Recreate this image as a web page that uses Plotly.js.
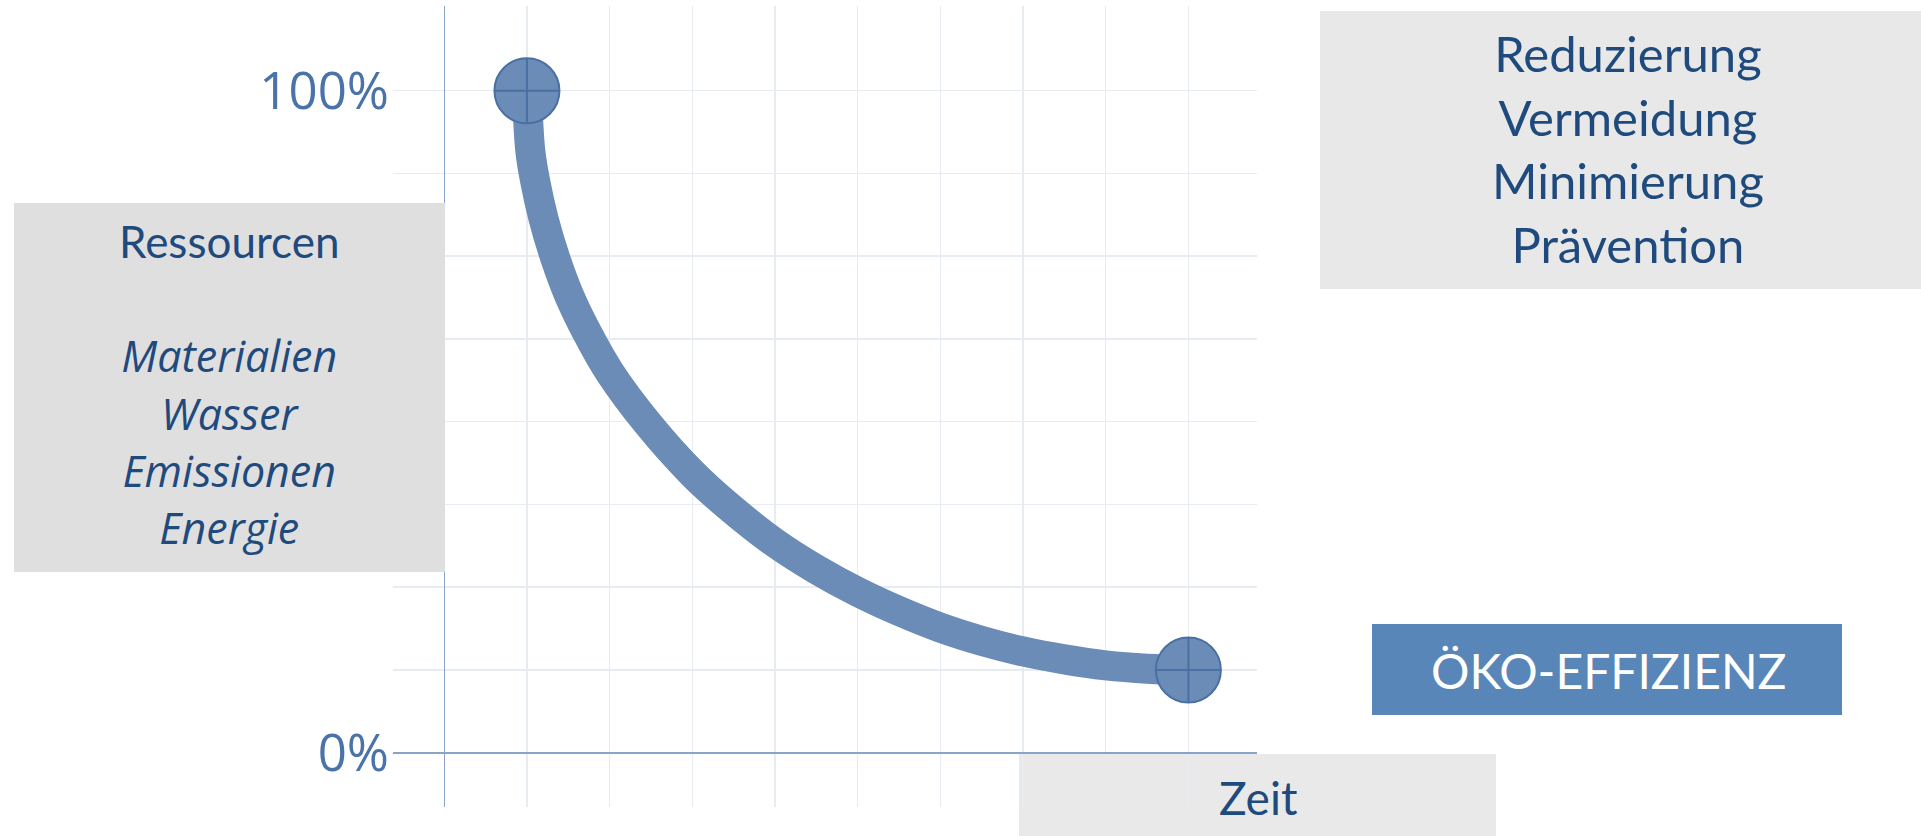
<!DOCTYPE html>
<html>
<head>
<meta charset="utf-8">
<script src="https://cdn.plot.ly/plotly-3.0.1.min.js"></script>
<style>
  html, body { margin: 0; padding: 0; background: #ffffff; }
  #chart { width: 1921px; height: 836px; }
</style>
</head>
<body>
<div id="chart"></div>
<script>
// ---- data ----
const timeX = [1, 1.04, 1.10, 1.20, 1.34, 1.51, 1.73, 2.00, 2.45, 3.00, 3.43, 4.00, 4.50, 5.00, 5.50, 6.00, 6.50, 7.00, 7.50, 8.00, 8.50, 9];
const resourcePct = [100, 91.0, 86.3, 80.7, 74.8, 69.1, 63.4, 57.5, 49.9, 42.2, 37.3, 31.7, 27.7, 24.3, 21.4, 18.9, 16.9, 15.3, 14.1, 13.2, 12.7, 12.5];
const yTickVals = [0, 12.5, 25, 37.5, 50, 62.5, 75, 87.5, 100];
const yTickText = ['0%', '', '', '', '', '', '', '', '100%'];
const leftTitle = 'Ressourcen';
const leftItems = ['Materialien', 'Wasser', 'Emissionen', 'Energie'];
const rightLabels = ['Reduzierung', 'Vermeidung', 'Minimierung', 'Prävention'];
const badgeLabel = 'ÖKO-EFFIZIENZ';
const xLabel = 'Zeit';

// ---- layout geometry (pixels) ----
const L = 393, R = 1257, T = 6, B = 807;
const W = R - L, H = B - T;
function px(p) { return (p - L) / W; }
function py(p) { return (B - p) / H; }

const lineColor = '#6a8cb6';
const textBlue = '#1f4a7d';

const leftText = leftTitle + '<br><br>' +
  leftItems.map(s => '<i><span style="font-family:Open Sans;font-size:43px">' + s + '</span></i>').join('<br>');

const traces = [
  {
    x: timeX, y: resourcePct,
    mode: 'lines', type: 'scatter',
    line: { color: lineColor, width: 30, shape: 'spline', smoothing: 1 },
    hoverinfo: 'skip'
  },
  {
    x: [timeX[0], timeX[timeX.length - 1]],
    y: [resourcePct[0], resourcePct[resourcePct.length - 1]],
    mode: 'markers', type: 'scatter',
    marker: { symbol: 'circle-cross', size: 65, color: lineColor,
              line: { color: '#4a70a3', width: 2 } },
    hoverinfo: 'skip'
  }
];

const layout = {
  width: 1921, height: 836,
  margin: { l: L, r: 1921 - R, t: T, b: 836 - B, pad: 0 },
  paper_bgcolor: '#ffffff',
  plot_bgcolor: 'rgba(0,0,0,0)',
  showlegend: false,
  hovermode: false,
  xaxis: {
    range: [-0.62, 9.83], tick0: 0, dtick: 1,
    showticklabels: false, ticks: '',
    showgrid: true, gridcolor: '#e7ebf2', gridwidth: 1.5,
    zeroline: true, zerolinecolor: '#8aa5cc', zerolinewidth: 1.5,
    showline: false, fixedrange: true
  },
  yaxis: {
    range: [-8.2, 112.8],
    tickmode: 'array', tickvals: yTickVals, ticktext: yTickText,
    ticks: '', ticklabelstandoff: 3,
    tickfont: { family: 'Open Sans, sans-serif', size: 51, color: '#4a73a9' },
    showgrid: true, gridcolor: '#e7ebf2', gridwidth: 1.5,
    zeroline: true, zerolinecolor: '#8aa3c7', zerolinewidth: 2,
    showline: false, fixedrange: true, automargin: false
  },
  shapes: [
    { type: 'rect', xref: 'paper', yref: 'paper', layer: 'above',
      x0: px(14), x1: px(445), y0: py(572), y1: py(203),
      fillcolor: '#dfdfdf', line: { width: 0 } },
    { type: 'rect', xref: 'paper', yref: 'paper', layer: 'above',
      x0: px(1320), x1: px(1930), y0: py(289), y1: py(11),
      fillcolor: '#e8e8e8', line: { width: 0 } },
    { type: 'rect', xref: 'paper', yref: 'paper', layer: 'above',
      x0: px(1372), x1: px(1842), y0: py(715), y1: py(624),
      fillcolor: '#5886b9', line: { width: 0 } },
    { type: 'rect', xref: 'paper', yref: 'paper', layer: 'below',
      x0: px(1019), x1: px(1496), y0: py(845), y1: py(754),
      fillcolor: '#e9e9e9', line: { width: 0 } }
  ],
  annotations: [
    { xref: 'paper', yref: 'paper', x: px(229), y: py(386),
      xanchor: 'center', yanchor: 'middle', showarrow: false, align: 'center',
      text: leftText,
      font: { family: 'Lato, sans-serif', size: 44, color: textBlue } },
    { xref: 'paper', yref: 'paper', x: px(1628), y: py(148.5),
      xanchor: 'center', yanchor: 'middle', showarrow: false, align: 'center',
      text: rightLabels.join('<br>'),
      font: { family: 'Lato, sans-serif', size: 49, color: textBlue } },
    { xref: 'paper', yref: 'paper', x: px(1608), y: py(670),
      xanchor: 'center', yanchor: 'middle', showarrow: false,
      text: badgeLabel,
      font: { family: 'Lato, sans-serif', size: 48, color: '#ffffff' } },
    { xref: 'paper', yref: 'paper', x: px(1258), y: py(797),
      xanchor: 'center', yanchor: 'middle', showarrow: false,
      text: xLabel,
      font: { family: 'Lato, sans-serif', size: 46, color: textBlue } }
  ]
};

Plotly.newPlot('chart', traces, layout, { displayModeBar: false, staticPlot: true });
</script>
</body>
</html>
